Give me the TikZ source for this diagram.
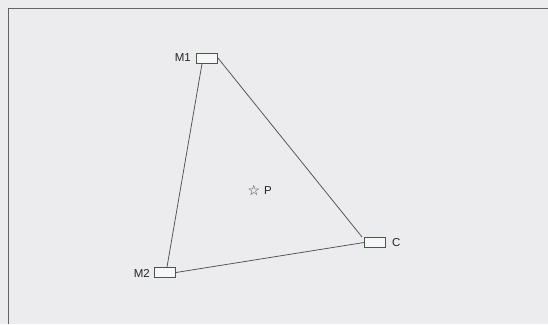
\documentclass[tikz,border=0pt]{standalone}
\usepackage{fontspec}
\setmainfont{Liberation Sans}
\newfontfamily\symfont{DejaVu Sans}
\definecolor{bg}{RGB}{236,236,238}
\definecolor{ln}{RGB}{80,80,80}
\definecolor{fr}{RGB}{100,100,102}
\definecolor{bx}{RGB}{75,85,75}
\tikzset{
  xrect/.style={draw=bx, line width=0.9pt, fill=white!60!bg, minimum width=21pt, minimum height=10pt, inner sep=0pt},
  lbl/.style={font=\fontsize{11.5}{12}\selectfont, text=black!85, inner sep=0pt},
  edge/.style={draw=ln, line width=0.75pt}
}
\begin{document}
\begin{tikzpicture}[x=1pt,y=-1pt]
\useasboundingbox (0,0) rectangle (548,324);
\fill[bg] (0,0) rectangle (548,324);
\draw[fr, line width=1.8pt] (8.5,324) -- (8.5,8.5) -- (548,8.5);
\node[xrect] (m1) at (207,58) {};
\node[xrect] (m2) at (165,272.5) {};
\node[xrect] (c) at (375,242.5) {};
\node[lbl, anchor=east] (lm1) at (191,58) {M1};
\node[lbl, anchor=east] (lm2) at (150,273) {M2};
\node[lbl, anchor=west] (lc) at (392,243) {C};
\node[inner sep=0pt, text=black!80, font=\symfont\fontsize{14}{14}\selectfont] (star) at (254,190) {☆};
\node[lbl, anchor=west] (lp) at (264,191) {P};
\draw[edge] (m1.south west)+(6,0) -- ([xshift=2pt]m2.north);
\draw[edge] (m1.east) -- ([xshift=-2pt]c.north west);
\draw[edge] (m2.east) -- (c.west);
\end{tikzpicture}
\end{document}
